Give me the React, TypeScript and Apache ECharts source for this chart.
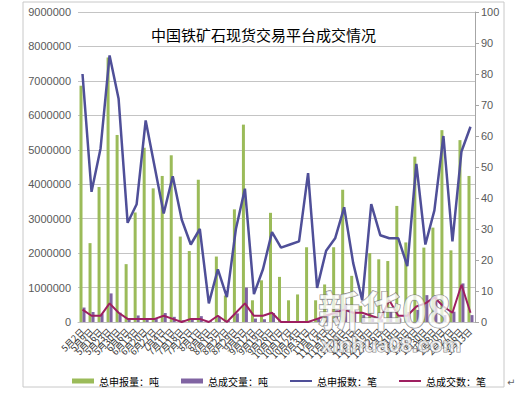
import React, { useEffect, useRef } from "react";
import * as echarts from "echarts";

const categories: string[] = [
  "5月2日", "5月9日", "5月16日", "5月23日", "5月30日",
  "6月6日", "6月13日", "6月20日", "6月27日",
  "7月4日", "7月11日", "7月18日", "7月25日",
  "8月1日", "8月8日", "8月15日", "8月22日", "8月29日",
  "9月5日", "9月12日", "9月19日", "9月26日",
  "10月10日", "10月17日", "10月24日", "10月31日",
  "11月7日", "11月14日", "11月21日", "11月28日",
  "12月5日", "12月12日", "12月19日", "12月26日",
  "1月2日", "1月9日", "1月16日", "1月23日", "1月30日",
  "2月6日", "2月20日", "2月27日",
  "3月6日", "3月13日",
];

// 总申报量：吨
const declaredVolume: number[] = [
  6860000, 2290000, 3920000, 7680000, 5430000, 1680000, 3180000, 5060000, 3880000, 4240000,
  4840000, 2480000, 2060000, 4130000, 0, 1900000, 770000, 3270000, 5730000, 630000,
  1210000, 3170000, 1310000, 630000, 800000, 2170000, 630000, 1090000, 2170000, 3840000,
  1340000, 470000, 2000000, 1820000, 1770000, 3370000, 2310000, 4800000, 2160000, 2740000,
  5570000, 2080000, 5280000, 4240000,
];

// 总成交量：吨
const dealVolume: number[] = [
  420000, 290000, 240000, 830000, 270000, 100000, 190000, 100000, 100000, 260000,
  150000, 50000, 70000, 170000, 30000, 150000, 30000, 250000, 1000000, 100000,
  80000, 260000, 20000, 20000, 20000, 20000, 100000, 240000, 340000, 530000,
  300000, 200000, 100000, 80000, 300000, 100000, 290000, 350000, 780000, 780000,
  200000, 300000, 1120000, 200000,
];

// 总申报数：笔
const declaredCount: number[] = [
  80, 42, 56, 86, 72, 32, 38, 65, 50, 35,
  47, 33, 25, 30, 6, 17, 8, 30, 43, 9,
  17, 29, 24, 25, 26, 48, 11, 23, 27, 37,
  19, 7, 38, 28, 27, 27, 18, 51, 25, 36,
  60, 26, 55, 63,
];

// 总成交数：笔
const dealCount: number[] = [
  4, 2, 2, 6, 3, 1, 1, 1, 1, 2,
  1, 0, 1, 1, 0, 2, 0, 3, 6, 2,
  2, 3, 0, 0, 0, 0, 1, 2, 3, 4,
  3, 3, 2, 1, 7, 2, 2, 5, 6, 8,
  5, 3, 12, 3,
];

const leftTicksMax = 9000000;
const leftInterval = 1000000;
const rightMax = 100;
const rightInterval = 10;

const TITLE = "中国铁矿石现货交易平台成交情况";
const names = ["总申报量：吨", "总成交量：吨", "总申报数：笔", "总成交数：笔"];

const GREEN = "#9BBB59";
const PURPLE = "#8064A2";
const BLUE = "#4F4F98";
const RED = "#9E1F60";

const CJK = "'Noto Sans CJK SC', 'Liberation Sans', sans-serif";
const LAT = "'Liberation Sans', 'Noto Sans CJK SC', sans-serif";

export default function App() {
  const ref = useRef<HTMLDivElement>(null);

  useEffect(() => {
    if (!ref.current) return;
    const chart = echarts.init(ref.current, undefined, { renderer: "svg" });
    const lineIcon = "path://M0,0H22V2H0Z";
    chart.setOption({
      animation: false,
      backgroundColor: "#ffffff",
      title: {
        text: TITLE,
        left: "center",
        top: 22,
        textStyle: { fontSize: 15, fontWeight: "normal", color: "#000", fontFamily: CJK },
      },
      grid: { left: 78, right: 52, top: 12, bottom: 72 },
      legend: {
        left: 67,
        top: 371,
        itemWidth: 22,
        itemHeight: 5,
        itemGap: 22,
        textStyle: { fontSize: 10, color: "#000", fontFamily: CJK },
        data: [
          { name: names[0], icon: "rect" },
          { name: names[1], icon: "rect" },
          { name: names[2], icon: lineIcon },
          { name: names[3], icon: lineIcon },
        ],
      },
      xAxis: {
        type: "category",
        data: categories,
        boundaryGap: true,
        axisLine: { show: true, lineStyle: { color: "#BFBFBF", width: 1 } },
        axisTick: { show: false },
        axisLabel: {
          interval: 0,
          rotate: 45,
          fontSize: 9,
          margin: 8,
          color: "#333",
          fontFamily: CJK,
        },
      },
      yAxis: [
        {
          type: "value",
          min: 0,
          max: leftTicksMax,
          interval: leftInterval,
          axisLine: { show: false },
          axisTick: { show: false },
          axisLabel: {
            fontSize: 11,
            color: "#595959",
            margin: 7,
            fontFamily: LAT,
            formatter: (v: number) => String(v),
          },
          splitLine: { show: true, lineStyle: { color: "#C4C4C4", width: 1 } },
        },
        {
          type: "value",
          position: "right",
          min: 0,
          max: rightMax,
          interval: rightInterval,
          axisLine: { show: true, lineStyle: { color: "#A6A6A6", width: 1 } },
          axisTick: { show: true, length: 4, lineStyle: { color: "#A6A6A6" } },
          axisLabel: {
            fontSize: 11,
            color: "#595959",
            margin: 6,
            fontFamily: LAT,
            formatter: (v: number) => String(v),
          },
          splitLine: { show: false },
        },
      ],
      series: [
        {
          name: names[0],
          type: "bar",
          data: declaredVolume,
          barWidth: 3,
          barGap: "0%",
          color: GREEN,
          itemStyle: { color: GREEN },
        },
        {
          name: names[1],
          type: "bar",
          data: dealVolume,
          barWidth: 3,
          barGap: "0%",
          color: PURPLE,
          itemStyle: { color: PURPLE },
        },
        {
          name: names[2],
          type: "line",
          yAxisIndex: 1,
          data: declaredCount,
          symbol: "none",
          color: BLUE,
          itemStyle: { color: BLUE },
          lineStyle: { color: BLUE, width: 2.5 },
          z: 3,
        },
        {
          name: names[3],
          type: "line",
          yAxisIndex: 1,
          data: dealCount,
          symbol: "none",
          color: RED,
          itemStyle: { color: RED },
          lineStyle: { color: RED, width: 2 },
          z: 4,
        },
      ],
      graphic: [
        {
          type: "rect",
          silent: true,
          shape: { x: 23, y: 2, width: 481, height: 385 },
          style: { fill: "none", stroke: "#C8C8C8", lineWidth: 1 },
        },
        {
          type: "text",
          silent: true,
          z: 100,
          x: 318,
          y: 287,
          style: {
            text: "新华08",
            fontSize: 42,
            lineHeight: 42,
            fontWeight: "bold",
            fontFamily: CJK,
            fill: "rgba(255,255,255,0.75)",
            stroke: "rgba(110,110,110,0.8)",
            lineWidth: 1.2,
          },
        },
        {
          type: "text",
          silent: true,
          z: 100,
          x: 321,
          y: 334,
          style: {
            text: "xinhua08.com",
            fontSize: 21,
            lineHeight: 21,
            fontWeight: "bold",
            fontFamily: LAT,
            fill: "rgba(255,255,255,0.75)",
            stroke: "rgba(110,110,110,0.8)",
            lineWidth: 1.2,
          },
        },
        {
          type: "text",
          silent: true,
          x: 507,
          y: 377,
          style: { text: "↵", fontSize: 10, fill: "#666", fontFamily: "'DejaVu Sans'" },
        },
      ],
    });
    return () => chart.dispose();
  }, []);

  return (
    <div
      ref={ref}
      style={{ position: "fixed", left: 0, top: 0, width: 527, height: 394, background: "#fff" }}
    />
  );
}
